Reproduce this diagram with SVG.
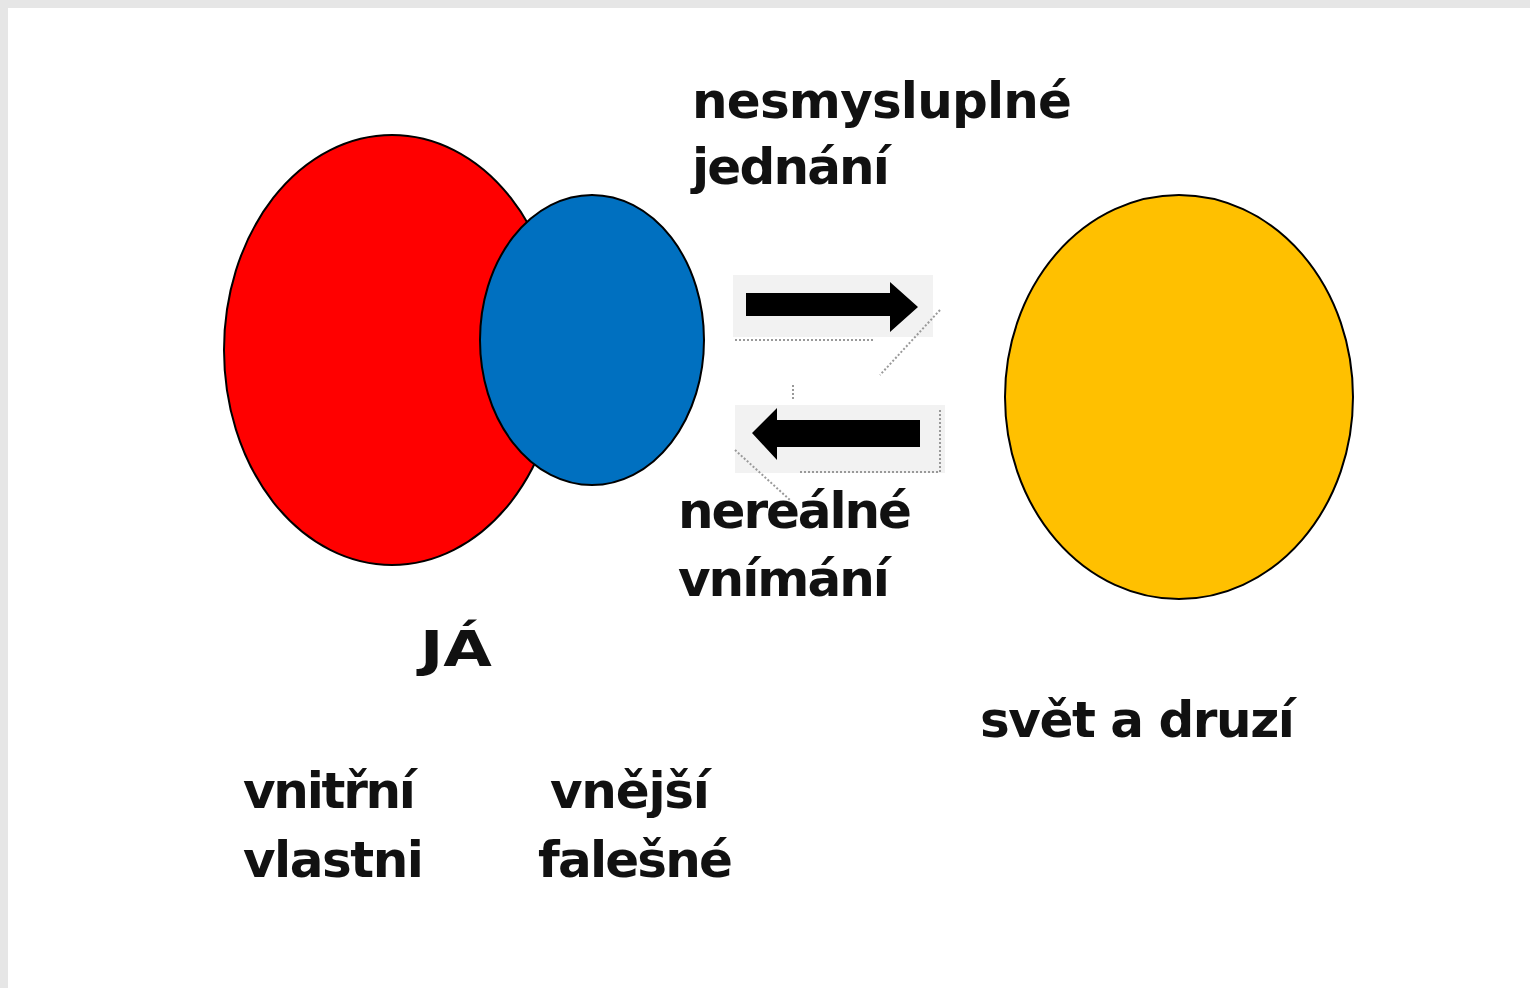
<svg xmlns="http://www.w3.org/2000/svg" width="1530" height="988" viewBox="0 0 1530 988">
<defs>
<style>
.t{font-family:"DejaVu Sans","Verdana",sans-serif;font-weight:bold;font-size:50px;fill:#111}
.e{stroke:#000;stroke-width:2}
.sh{fill:#f2f2f2}
.dot{fill:none;stroke:#999;stroke-width:2;stroke-dasharray:2 2}
</style>
</defs>
<rect x="0" y="0" width="1530" height="988" fill="#fff"/>
<rect x="0" y="0" width="1530" height="8" fill="#e6e6e6"/>
<rect x="0" y="0" width="8" height="988" fill="#e6e6e6"/>
<g id="red-ellipse"><ellipse class="e" cx="392" cy="350" rx="168" ry="215" fill="#ff0000"/></g>
<g id="blue-ellipse"><ellipse class="e" cx="592" cy="340" rx="112" ry="145" fill="#0070c0"/></g>
<g id="orange-ellipse"><ellipse class="e" cx="1179" cy="397" rx="174" ry="202" fill="#ffc000"/></g>
<g id="connectors">
<rect class="sh" x="733" y="275" width="200" height="62"/>
<path class="dot" d="M735 340 H875 M940 310 L880 375"/>
<polygon points="746,293 890,293 890,282 918,307 890,332 890,316 746,316" fill="#000"/>
<rect class="sh" x="735" y="405" width="210" height="68"/>
<path class="dot" d="M800 472 H940 V410 M735 450 L790 500 M793 385 v15"/>
<polygon points="920,420 777,420 777,408 752,433 777,460 777,447 920,447" fill="#000"/>
</g>
<g id="labels">
<text class="t" x="692" y="118" textLength="380" lengthAdjust="spacing">nesmysluplné</text>
<text class="t" x="692" y="184" textLength="198" lengthAdjust="spacing">jednání</text>
<text class="t" x="678" y="528" textLength="234" lengthAdjust="spacing">nereálné</text>
<text class="t" x="678" y="596" textLength="212" lengthAdjust="spacing">vnímání</text>
<text class="t" x="420" y="666" textLength="72" lengthAdjust="spacingAndGlyphs">JÁ</text>
<text class="t" x="980" y="737" textLength="315" lengthAdjust="spacing">svět a druzí</text>
<text class="t" x="243" y="808" textLength="173" lengthAdjust="spacing">vnitřní</text>
<text class="t" x="243" y="877" textLength="181" lengthAdjust="spacing">vlastni</text>
<text class="t" x="550" y="808" textLength="160" lengthAdjust="spacing">vnější</text>
<text class="t" x="538" y="877" textLength="195" lengthAdjust="spacing">falešné</text>
</g>
</svg>
